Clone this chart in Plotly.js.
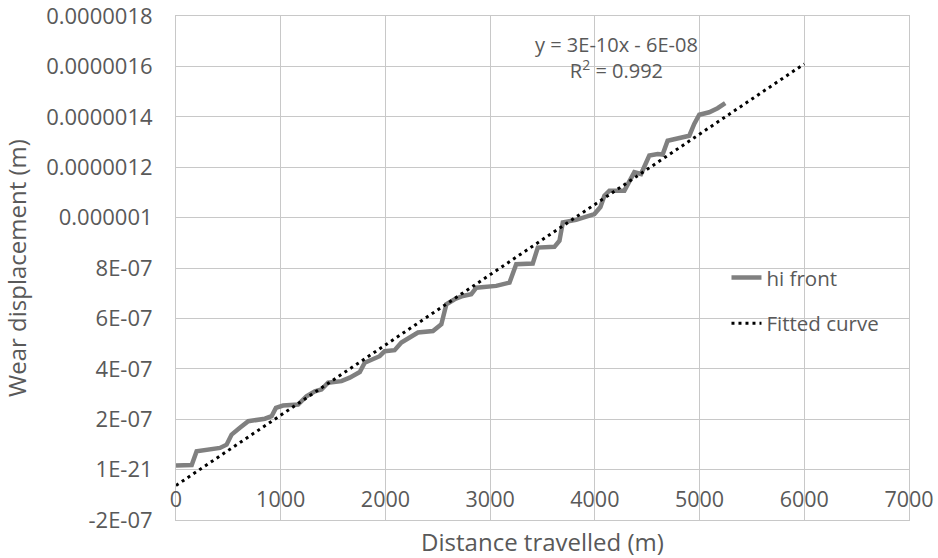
<!DOCTYPE html>
<html>
<head>
<meta charset="utf-8">
<script src="https://cdn.plot.ly/plotly-3.0.1.min.js"></script>
<style>html,body{margin:0;padding:0;background:#fff;}#chart{width:938px;height:558px;}</style>
</head>
<body>
<div id="chart"></div>
<script>
// Measured series "hi front" (distance m, wear displacement m)
const hiFrontX = [0, 150, 197, 420, 483, 531, 610, 690, 849, 913, 954, 1023, 1166, 1246, 1326, 1389, 1452, 1580, 1659, 1755, 1802, 1882, 1945, 1993, 2088, 2152, 2232, 2311, 2454, 2534, 2582, 2661, 2740, 2820, 2868, 3058, 3185, 3249, 3407, 3455, 3614, 3662, 3694, 3821, 3996, 4053, 4091, 4139, 4282, 4346, 4377, 4441, 4473, 4520, 4600, 4647, 4695, 4870, 4902, 4949, 4997, 5092, 5172, 5245];
const hiFrontY = [1.6e-8, 1.8e-8, 7.3e-8, 8.6e-8, 9.9e-8, 1.39e-7, 1.66e-7, 1.92e-7, 2.02e-7, 2.12e-7, 2.45e-7, 2.54e-7, 2.58e-7, 2.91e-7, 3.11e-7, 3.18e-7, 3.45e-7, 3.51e-7, 3.65e-7, 3.87e-7, 4.24e-7, 4.40e-7, 4.50e-7, 4.70e-7, 4.74e-7, 5.04e-7, 5.24e-7, 5.44e-7, 5.50e-7, 5.77e-7, 6.56e-7, 6.76e-7, 6.89e-7, 6.96e-7, 7.22e-7, 7.29e-7, 7.42e-7, 8.15e-7, 8.18e-7, 8.81e-7, 8.84e-7, 9.08e-7, 9.81e-7, 9.91e-7, 1.014e-6, 1.042e-6, 1.087e-6, 1.107e-6, 1.107e-6, 1.153e-6, 1.180e-6, 1.173e-6, 1.200e-6, 1.246e-6, 1.252e-6, 1.250e-6, 1.305e-6, 1.319e-6, 1.325e-6, 1.372e-6, 1.408e-6, 1.418e-6, 1.434e-6, 1.454e-6];
// Fitted curve end points
const fitX = [0, 6000];
const fitY = [-6.3e-8, 1.61e-6];
// Axis ticks
const xTickVals = [0, 1000, 2000, 3000, 4000, 5000, 6000, 7000];
const yTickVals = [-2e-7, 0, 2e-7, 4e-7, 6e-7, 8e-7, 1e-6, 1.2e-6, 1.4e-6, 1.6e-6, 1.8e-6];
const yTickText = ["-2E-07", "1E-21", "2E-07", "4E-07", "6E-07", "8E-07", "0.000001", "0.0000012", "0.0000014", "0.0000016", "0.0000018"];
const seriesNames = ["hi front", "Fitted curve"];
const equationText = "y = 3E-10x - 6E-08<br>R<sup>2</sup> = 0.992";

const FONT = "Open Sans, sans-serif";
const TXT = "#595959";
const GRID = "#c8c8c8";

const traces = [
  {x: hiFrontX, y: hiFrontY, type: "scatter", mode: "lines", name: seriesNames[0],
   legendgroup: "a", line: {color: "#808080", width: 4.5}},
  {x: fitX, y: fitY, type: "scatter", mode: "lines", name: seriesNames[1],
   legendgroup: "b", line: {color: "#000000", width: 3, dash: "3px,4px"}}
];

const layout = {
  width: 938, height: 558,
  margin: {l: 176, r: 29, t: 16, b: 38, pad: 0},
  paper_bgcolor: "#ffffff", plot_bgcolor: "#ffffff",
  font: {family: FONT, color: TXT, size: 20},
  showlegend: true,
  legend: {x: 0.751, y: 0.435, xanchor: "left", yanchor: "middle", bgcolor: "rgba(0,0,0,0)",
           font: {family: FONT, size: 20.5, color: TXT}, traceorder: "grouped", tracegroupgap: 16},
  xaxis: {range: [0, 7000], tickvals: xTickVals, ticktext: xTickVals.map(String),
          showgrid: true, gridcolor: GRID, gridwidth: 1, zeroline: false,
          showline: true, linecolor: GRID, linewidth: 1, mirror: true, ticks: "",
          ticklabelposition: "inside", ticklabeloverflow: "allow", ticklabelstandoff: 10,
          tickfont: {family: FONT, size: 21.5, color: TXT},
          title: {text: "Distance travelled (m)", font: {family: FONT, size: 24, color: TXT}, standoff: 25}},
  yaxis: {range: [-2e-7, 1.8e-6], tickvals: yTickVals, ticktext: yTickText,
          showgrid: true, gridcolor: GRID, gridwidth: 1, zeroline: false,
          showline: true, linecolor: GRID, linewidth: 1, mirror: true, ticks: "",
          ticklabelstandoff: 18, ticklabeloverflow: "allow",
          tickfont: {family: FONT, size: 22, color: TXT},
          title: {text: "Wear displacement (m)", font: {family: FONT, size: 24, color: TXT}, standoff: 24}},
  annotations: [{xref: "paper", yref: "paper", x: 0.6016, y: 0.9176, xanchor: "center", yanchor: "middle",
                 text: equationText, showarrow: false, align: "center",
                 font: {family: FONT, size: 20, color: TXT}}]
};

Plotly.newPlot("chart", traces, layout, {displayModeBar: false, staticPlot: true});
</script>
</body>
</html>
